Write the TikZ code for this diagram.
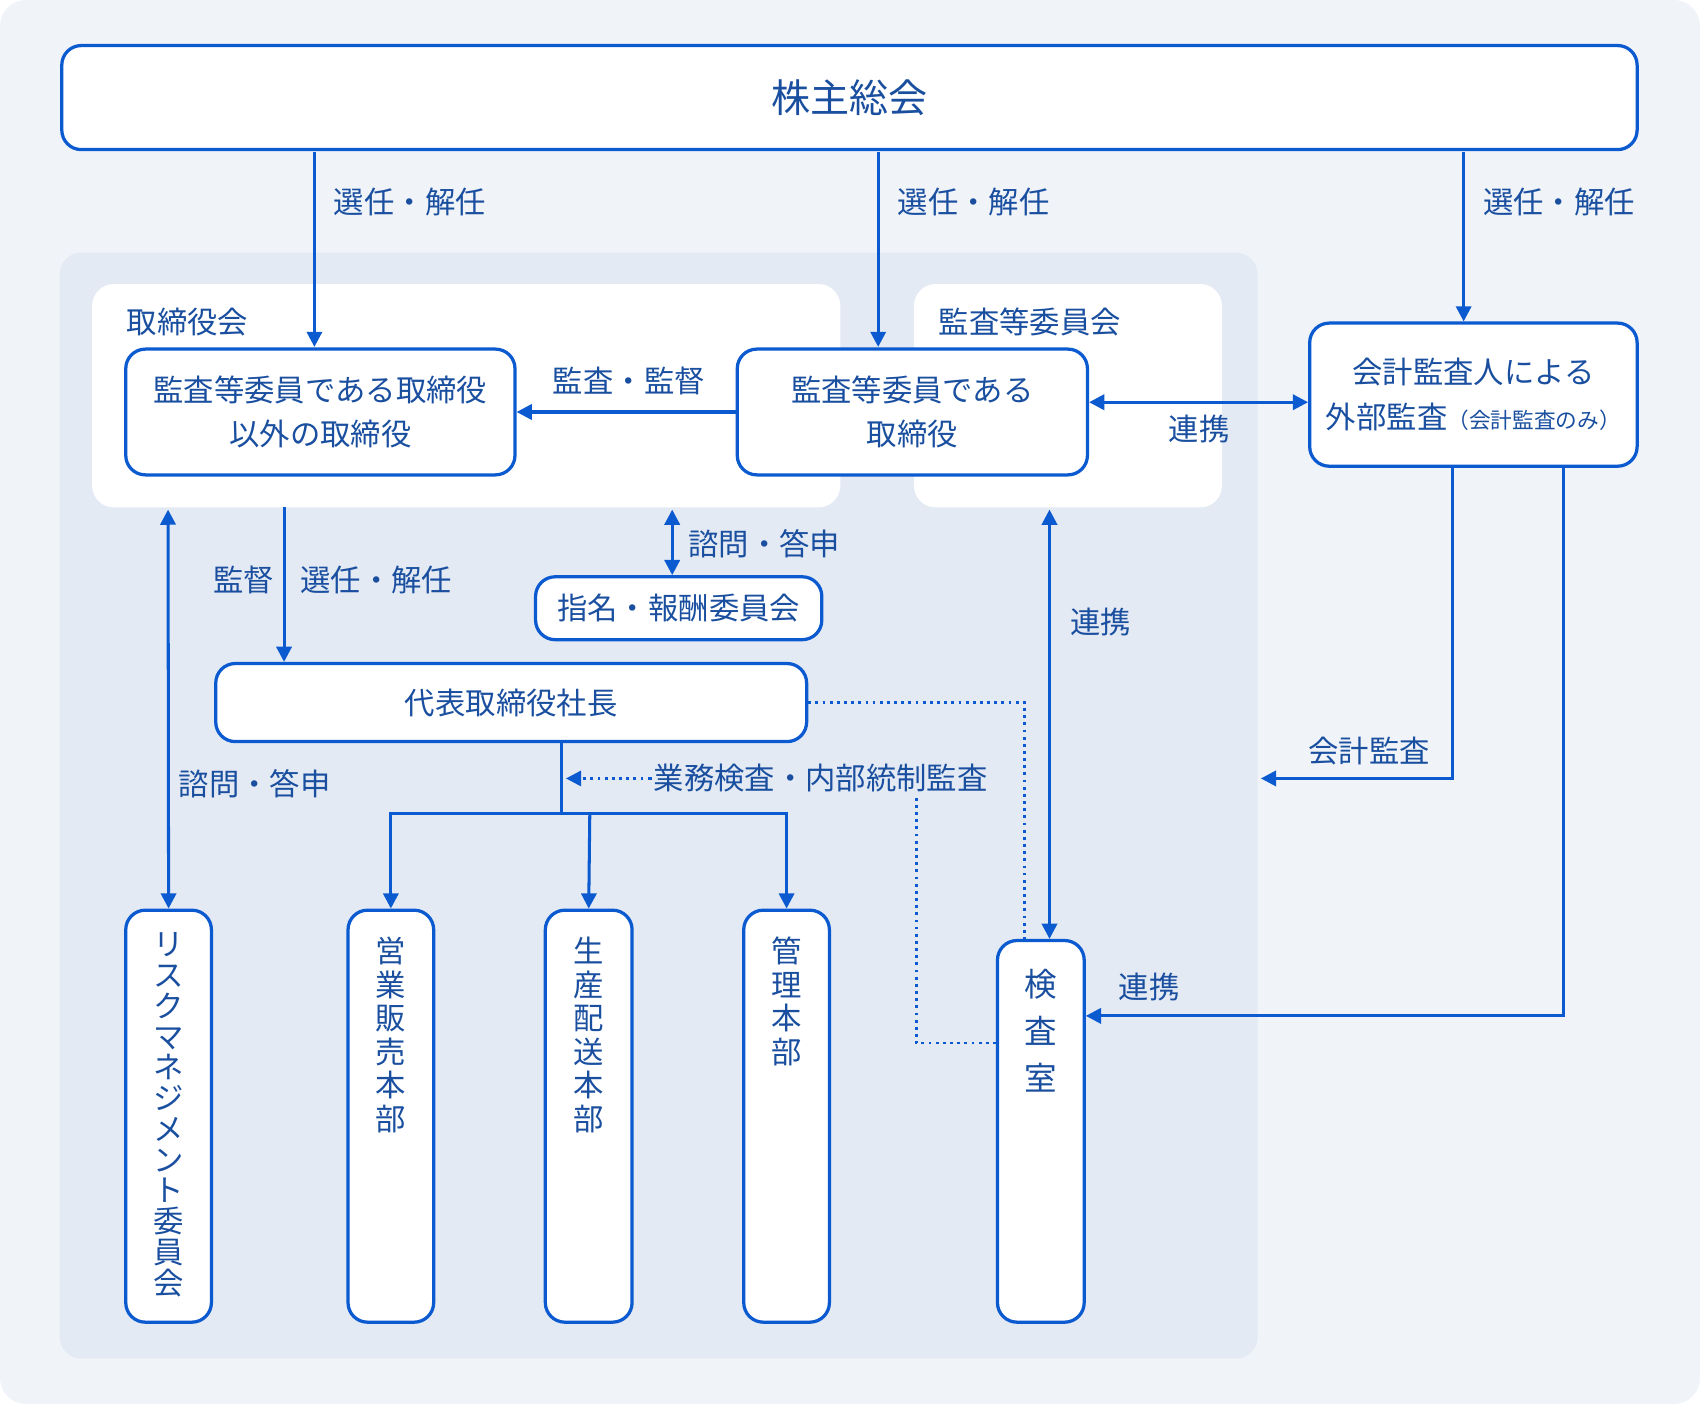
\documentclass[tikz,border=0pt]{standalone}
\usepackage{fontspec}
\setmainfont{Noto Sans CJK JP}
\usetikzlibrary{arrows.meta}
\definecolor{bl}{HTML}{0B5AD0}
\definecolor{bgo}{HTML}{F0F4F9}
\definecolor{bgi}{HTML}{E3EAF4}
\definecolor{tx}{HTML}{1A4FA0}
\begin{document}
\begin{tikzpicture}[x=0.5pt,y=-0.5pt,
 box/.style={draw=bl,line width=1.5pt,fill=white,rounded corners=9pt,align=center,text=tx,font=\fontsize{14}{20.5}\selectfont},
 lab/.style={text=tx,font=\fontsize{14}{16}\selectfont,inner sep=1pt},
 ar/.style={draw=bl,line width=1.4pt,-{Triangle[length=7pt,width=7pt]}},
 dar/.style={draw=bl,line width=1.4pt,{Triangle[length=7pt,width=7pt]}-{Triangle[length=7pt,width=7pt]}},
 dot/.style={draw=bl,line width=1.3pt,dotted},
 vt/.style={box,font=\fontsize{14}{15.5}\selectfont},
 vtx/.style={vt,draw=none,fill=none,anchor=north}]
\useasboundingbox (0,0) rectangle (1568,1295);
\fill[bgo,rounded corners=12pt] (0,0) rectangle (1568,1295);
\fill[bgi,rounded corners=10pt] (55,233) rectangle (1160,1253);
\fill[white,rounded corners=10pt] (85,262) rectangle (775,468);
\fill[white,rounded corners=10pt] (843,262) rectangle (1127,468);
\node[lab] (l1) at (173,297) {取締役会};
\node[lab] (l2) at (950,297) {監査等委員会};
\node[box,minimum width=726.5pt,minimum height=48pt,font=\fontsize{18}{20}\selectfont] (top) at (783.5,90) {株主総会};
\node[box,minimum width=179.5pt,minimum height=58pt] (A) at (295.5,380) {監査等委員である取締役\\以外の取締役};
\node[box,minimum width=161.5pt,minimum height=58pt] (B) at (841.5,380) {監査等委員である\\取締役};
\node[box,minimum width=151pt,minimum height=66pt,inner xsep=2pt] (C) at (1359,364) {会計監査人による\\外部監査{\fontsize{10}{12}\selectfont（会計監査のみ）}};
\node[box,minimum width=132pt,minimum height=29pt] (N) at (626,561) {指名・報酬委員会};
\node[box,minimum width=272.5pt,minimum height=36pt] (P) at (471.5,648) {代表取締役社長};
\node[vt,minimum width=39.5pt,minimum height=190pt,anchor=north] (R) at (155.5,838) {};
\node[vtx,font=\fontsize{14}{14.2}\selectfont] at (155.5,852) {リ\\ス\\ク\\マ\\ネ\\ジ\\メ\\ン\\ト\\委\\員\\会};
\node[vt,minimum width=39.5pt,minimum height=190pt,anchor=north] (S1) at (360.5,838) {};
\node[vtx] at (360.5,856) {営\\業\\販\\売\\本\\部};
\node[vt,minimum width=40pt,minimum height=190pt,anchor=north] (S2) at (543,838) {};
\node[vtx] at (543,856) {生\\産\\配\\送\\本\\部};
\node[vt,minimum width=39.5pt,minimum height=190pt,anchor=north] (S3) at (725.5,838) {};
\node[vtx] at (725.5,856) {管\\理\\本\\部};
\node[vt,minimum width=40pt,minimum height=176pt,anchor=north] (K) at (960,866) {};
\node[vtx,font=\fontsize{15}{21.5}\selectfont] at (960,886) {検\\査\\室};
% arrows
\draw[ar] (290,140) -- (290,320);
\node[lab] at (378,186) {選任・解任};
\draw[ar] (810,140) -- (810,320);
\node[lab] at (898,186) {選任・解任};
\draw[ar] (1350,140) -- (C.north -| 1350,0);
\node[lab] at (1438,186) {選任・解任};
\draw[ar] (B.west) -- (A.east);
\node[lab] at (580,351) {監査・監督};
\draw[dar] (B.east |- 0,371) -- (C.west |- 0,371);
\node[lab] at (1106,396) {連携};
\draw[dar] (620,470) -- (N.north -| 620,0);
\node[lab] at (705,502) {諮問・答申};
\draw[ar] (262,468) -- (P.north -| 262,0);
\node[lab] at (225,535) {監督};
\node[lab] at (347,535) {選任・解任};
\draw[dar] (155,470) -- (R.north);
\node[lab] at (235,723) {諮問・答申};
\draw[dar] (968,470) -- (K.north -| 968,0);
\node[lab] at (1015,574) {連携};
\draw[ar] (C.south -| 1340,0) -- (1340,718) -- (1163,718);
\node[lab] at (1263,693) {会計監査};
\draw[ar] (C.south -| 1442,0) -- (1442,937) -- (K.east |- 0,937);
\node[lab] at (1060,910) {連携};
\draw[bl,line width=1.4pt] (P.south -| 518,0) -- (518,750);
\draw[ar] (518,750) -| (S1.north);
\draw[ar] (518,750) -| (S3.north);
\draw[ar] (544,750) -- (S2.north);
\draw[dot] (P.east |- 0,648) -- (945,648) -- (K.north -| 945,0);
\draw[dot] (K.west |- 0,962) -- (845,962) -- (845,718) -- (600,718);
\draw[dot,-{Triangle[length=7pt,width=7pt]}] (600,718) -- (522,718);
\node[lab,fill=bgi] at (757,718) {業務検査・内部統制監査};
\end{tikzpicture}
\end{document}
